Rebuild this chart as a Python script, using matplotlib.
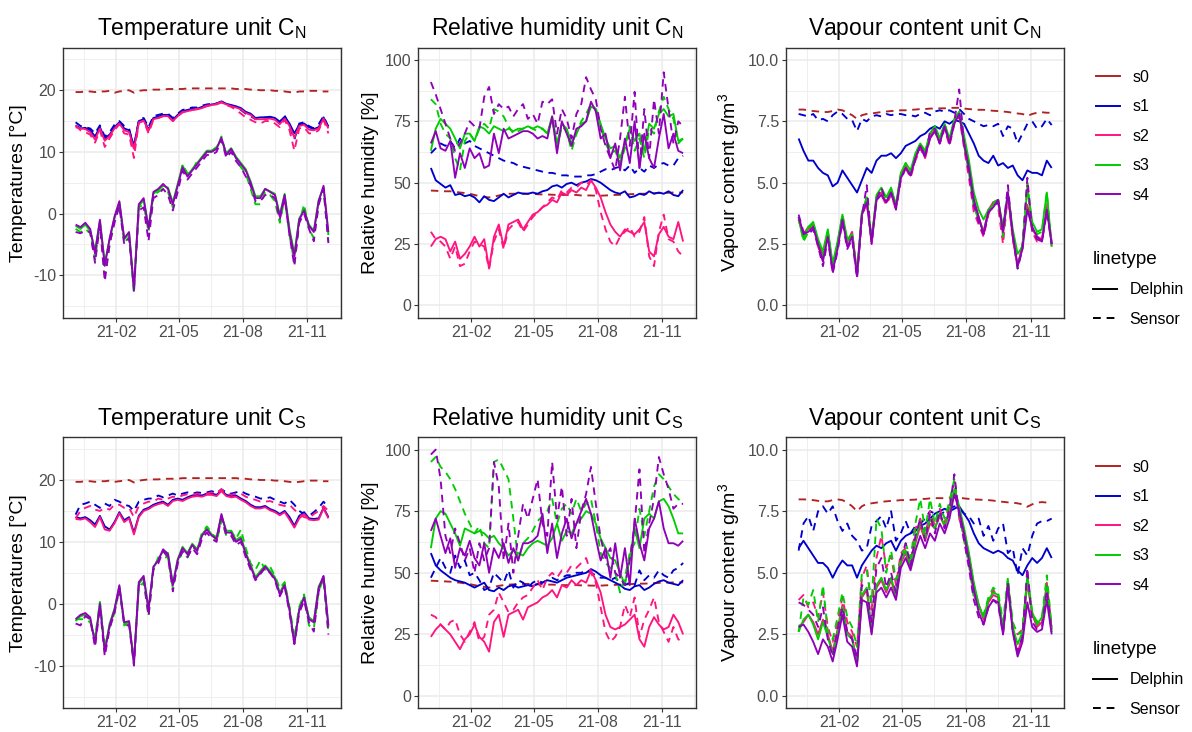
import numpy as np
import pandas as pd
import matplotlib
matplotlib.use('Agg')
import matplotlib.pyplot as plt
from matplotlib.lines import Line2D

plt.rcParams['font.family'] = ['Liberation Sans', 'DejaVu Sans']
plt.rcParams['mathtext.fontset'] = 'custom'
plt.rcParams['mathtext.rm'] = 'Liberation Sans'
plt.rcParams['mathtext.it'] = 'Liberation Sans:italic'
plt.rcParams['mathtext.bf'] = 'Liberation Sans:bold'

# ---------------- data ----------------
dates = pd.date_range('2020-12-05', '2021-12-01', periods=53)
sensors = ['s0', 's1', 's2', 's3', 's4']
linetypes = ['Delphin', 'Sensor']
month_breaks = ['2020-11-01', '2021-02-01', '2021-05-01', '2021-08-01', '2021-11-01', '2022-02-01']

# Temperature unit C_N
temp_N_s0_sensor = [19.7,19.7,19.8,19.8,19.7,19.8,19.8,19.9,19.6,19.8,
                    19.9,20.0,19.6,19.9,20.0,20.0,20.1,20.1,20.1,20.2,
                    20.2,20.2,20.2,20.3,20.3,20.3,20.3,20.3,20.3,20.3,
                    20.3,20.3,20.3,20.2,20.2,20.2,20.1,20.1,20.0,20.0,
                    20.0,19.9,19.9,19.8,19.7,19.6,19.8,19.8,19.9,19.9,
                    19.9,19.8,19.8]
temp_N_s1_delphin = [14.3,13.8,13.9,13.5,12.5,14.0,12.2,12.8,14.0,14.8,
                     13.8,13.5,11.0,15.0,15.3,13.6,15.5,15.7,16.0,16.0,
                     15.2,16.0,16.6,16.8,17.0,17.0,17.3,17.5,17.7,17.8,
                     18.2,17.8,17.6,17.4,17.1,16.5,16.2,15.5,15.6,15.6,
                     15.7,15.5,14.9,15.7,14.6,13.0,14.4,14.6,14.0,13.7,
                     14.0,15.6,14.1]
temp_N_s1_sensor = [14.8,14.2,14.0,13.8,13.0,14.3,12.5,13.2,14.4,15.0,
                    14.2,13.8,10.6,15.2,15.5,14.0,15.8,16.0,16.2,16.2,
                    15.5,16.2,16.8,17.0,17.2,17.2,17.5,17.7,17.8,17.9,
                    18.1,17.7,17.5,17.2,16.8,16.2,15.8,15.3,15.4,15.6,
                    15.5,15.4,14.8,15.9,14.3,12.0,14.6,14.8,14.2,13.8,
                    14.5,15.8,14.0]
temp_N_s2_delphin = [14.0,13.8,13.7,13.2,12.0,13.8,11.8,12.6,13.8,14.6,
                     13.5,13.2,10.5,14.7,15.1,13.4,15.3,15.5,15.8,15.8,
                     15.0,15.8,16.4,16.6,16.8,16.9,17.1,17.4,17.6,17.7,
                     18.0,17.7,17.4,17.2,16.9,16.3,16.0,15.3,15.3,15.3,
                     15.4,15.2,14.5,15.4,14.2,12.3,14.2,14.4,13.6,13.5,
                     13.8,15.4,13.8]
temp_N_s2_sensor = [14.3,13.5,13.2,12.8,11.5,13.5,10.8,12.2,13.5,14.5,
                    13.0,12.8,9.0,14.8,15.0,13.0,15.2,15.5,15.8,15.8,
                    15.0,15.8,16.5,16.6,16.8,17.0,17.2,17.5,17.6,17.8,
                    18.1,17.6,17.3,16.8,16.2,15.6,15.2,14.8,14.6,15.0,
                    15.0,14.6,14.0,15.2,13.5,10.2,13.8,14.0,13.0,13.0,
                    13.5,15.2,13.0]
temp_N_s3_delphin = [-2.0,-2.5,-1.8,-2.8,-6.0,-1.2,-8.0,-4.2,-0.8,1.8,
                     -4.2,-3.2,-12.0,1.2,2.2,-2.2,3.2,3.8,4.5,4.2,
                     1.8,4.8,7.8,6.2,7.2,8.2,9.2,10.2,10.2,10.8,
                     12.0,9.8,10.6,9.2,8.2,7.2,5.2,2.8,2.8,4.0,
                     3.6,3.2,-0.2,3.2,-2.5,-6.5,-0.8,0.6,-1.8,-2.8,
                     2.2,4.2,-3.5]
temp_N_s3_sensor = [-2.5,-3.0,-2.5,-3.2,-7.5,-1.5,-10.0,-5.0,-1.0,1.5,
                    -4.8,-3.8,-13.0,1.0,1.5,-3.0,3.0,3.5,4.0,3.5,
                    1.0,4.0,8.0,6.5,7.0,8.5,9.0,10.0,10.2,10.5,
                    12.5,9.5,10.5,9.0,7.5,6.5,4.0,1.5,1.5,3.5,
                    3.0,2.0,-1.5,2.5,-3.5,-8.0,-1.5,1.5,-2.5,-4.0,
                    1.5,4.0,-4.5]
temp_N_s4_delphin = [-1.8,-2.2,-1.5,-2.5,-6.5,-1.0,-8.5,-4.0,-0.5,2.0,
                     -4.0,-3.0,-12.5,1.5,2.5,-2.5,3.5,4.0,4.8,4.0,
                     1.5,4.5,7.5,6.0,7.0,8.0,9.0,10.0,10.0,10.5,
                     12.3,9.5,10.5,9.0,8.0,7.0,5.0,2.5,2.5,4.0,
                     3.5,3.0,-0.5,3.0,-3.0,-7.0,-1.0,0.5,-2.0,-3.0,
                     2.0,4.5,-3.0]
temp_N_s4_sensor = [-3.0,-3.2,-2.8,-3.0,-8.0,-1.8,-11.0,-5.0,-1.5,1.2,
                    -5.0,-4.0,-12.0,0.5,1.0,-4.5,2.5,3.0,4.0,3.0,
                    0.5,3.5,7.0,5.5,6.5,7.5,8.5,9.5,9.5,10.0,
                    12.0,9.0,10.0,8.5,7.5,6.0,4.5,2.0,2.0,3.0,
                    3.0,2.5,-1.0,2.5,-3.5,-8.5,-1.5,0.0,-2.5,-4.5,
                    1.5,4.0,-4.8]

# Relative humidity unit C_N
rh_N_s0_sensor = [46.8,46.7,46.6,46.5,46.5,46.3,46.0,45.8,45.5,45.0,
                  44.5,44.2,44.0,44.3,44.8,45.2,45.5,45.5,45.5,45.6,
                  45.5,45.4,45.3,45.2,45.2,45.1,45.0,45.0,45.0,45.0,
                  45.0,44.8,44.8,44.8,44.7,44.7,44.8,44.9,45.0,45.1,
                  45.2,45.3,45.4,45.5,45.5,45.6,45.7,45.8,45.8,45.9,
                  46.0,46.0,46.0]
rh_N_s1_delphin = [56,51,49.5,48,49,45,45.5,44.5,45,44,
                   42,44.5,43,42.5,44,45.5,44,45,46,45.5,
                   45.5,46,45.5,46.5,47,48.5,49,48,49.5,50,
                   49,50,50.5,51.5,51,50,48.5,47,46,45.5,
                   46.5,44,44.5,45.5,45,46.5,45.5,46,45.5,46.5,
                   45,44.5,47]
rh_N_s1_sensor = [62,64,66,65,67,64,68,66,67,65,
                  64,63,62,61,60,59,58.5,58,57,56.5,
                  56,55.5,55,54.5,54,54,53.5,53,53,52.5,
                  52.5,52.5,53,53,53.5,54.5,55.5,55,56,56.5,
                  55,57,54,56,54.5,57,56,57.5,58,57,
                  57,60,61]
rh_N_s2_delphin = [24,27,28,27,22,26,19,21,24,28,
                   24,27,15,28,33,24,33,34,35,31,
                   34,37,38,40,41,43,42,46,45,47,
                   46,48,47,51,48,44,38,33,30,28,
                   31,30,29,31,34,22,20,29,32,28,
                   27,34,26]
rh_N_s2_sensor = [30,27,26,24,19,24,16,17,22,26,
                  25,24,15,26,31,23,31,33,34,30,
                  33,36,38,40,42,44,43,47,46,48,
                  48,50,49,51,47,38,31,26,24,28,
                  30,32,28,30,36,20,16,30,37,27,
                  26,22,20]
rh_N_s3_delphin = [63,72,76,74,72,68,64,70,70,67,
                   73,72,70,73,72,71,72,71,72,72,
                   73,72,73,72,70,77,66,74,72,66,
                   70,74,75,81,80,74,68,64,65,60,
                   66,72,67,70,63,74,72,78,80,77,
                   78,67,68]
rh_N_s3_sensor = [84,82,74,70,68,60,55,67,70,67,
                  72,74,72,80,79,77,73,70,71,72,
                  73,72,71,72,70,76,64,73,71,63,
                  70,75,78,82,80,73,66,62,63,58,
                  64,73,63,68,60,72,70,79,85,80,
                  76,66,68]
rh_N_s4_delphin = [66,71,64,63,67,52,62,56,64,60,
                   62,56,57,70,62,72,68,69,70,71,
                   71,70,68,69,68,77,62,75,70,65,
                   72,73,75,83,79,68,70,60,66,55,
                   68,58,75,56,70,60,56,68,78,64,
                   70,63,62]
rh_N_s4_sensor = [91,86,80,74,68,63,66,70,75,73,
                  72,85,89,78,82,80,81,77,80,82,
                  76,78,74,83,82,84,70,80,76,68,
                  78,82,93,88,84,72,65,60,55,68,
                  85,65,87,56,80,60,84,70,95,80,
                  66,75,73]

# Vapour content unit C_N
vc_N_s0_sensor = [7.98,7.98,7.95,7.92,7.90,7.88,7.88,7.92,7.98,7.95,
                  7.85,7.75,7.60,7.75,7.80,7.82,7.85,7.88,7.90,7.92,
                  7.93,7.95,7.95,7.97,7.98,8.00,8.00,8.02,8.02,8.03,
                  8.03,8.05,8.05,8.05,8.02,8.00,7.98,7.97,7.97,7.95,
                  7.93,7.92,7.90,7.88,7.85,7.82,7.80,7.72,7.80,7.85,
                  7.87,7.85,7.85]
vc_N_s1_delphin = [6.8,6.3,5.9,5.9,5.6,5.4,5.3,4.85,5.0,5.5,
                   5.2,4.9,4.6,5.1,5.6,5.4,5.9,6.1,6.1,6.2,
                   6.0,6.2,6.5,6.6,6.7,6.9,7.0,7.2,7.3,7.2,
                   7.5,7.4,7.55,7.5,7.4,7.0,6.6,6.1,5.9,5.8,
                   6.1,5.7,5.8,5.6,5.7,5.3,5.1,5.5,5.4,5.4,
                   5.3,5.9,5.6]
vc_N_s1_sensor = [7.8,7.75,7.7,7.8,7.55,7.6,7.5,7.75,7.9,7.8,
                  7.6,7.55,7.1,7.6,7.5,7.7,7.75,7.7,7.8,7.75,
                  7.8,7.8,7.75,7.75,7.7,7.8,7.85,7.75,7.9,7.95,
                  7.9,7.95,7.85,8.0,7.8,7.6,7.5,7.4,7.3,7.35,
                  7.3,7.4,6.9,7.3,7.2,6.6,7.0,7.4,7.5,7.2,
                  7.3,7.6,7.35]
vc_N_s2_delphin = [3.6,2.9,3.2,3.3,2.6,2.0,3.0,1.5,2.5,3.6,
                   2.6,3.0,1.3,3.7,4.3,2.6,4.4,4.6,4.2,4.6,
                   4.0,5.3,5.7,5.3,6.0,6.5,6.1,6.9,7.2,6.7,
                   7.3,6.7,7.5,7.8,6.8,5.6,4.3,3.6,3.0,3.9,
                   4.2,4.3,2.9,4.5,2.8,1.6,2.5,4.1,3.1,2.8,
                   2.7,4.0,2.6]
vc_N_s2_sensor = [3.5,2.8,3.1,3.3,2.4,1.8,2.9,1.4,2.4,3.6,
                  2.5,3.0,1.2,3.6,4.2,2.5,4.3,4.5,4.1,4.5,
                  3.9,5.2,5.6,5.2,5.9,6.4,6.0,6.8,7.1,6.6,
                  7.2,6.5,7.4,7.7,6.4,5.2,3.8,3.3,2.8,3.7,
                  4.2,4.0,2.5,4.5,2.7,1.6,2.4,4.9,3.0,2.6,
                  2.6,4.2,2.4]
vc_N_s3_delphin = [3.5,2.7,3.2,3.4,2.7,2.2,3.1,1.7,2.6,3.7,
                   2.7,2.9,1.3,3.8,4.4,2.7,4.5,4.8,4.4,4.8,
                   4.1,5.4,5.8,5.5,6.2,6.6,6.3,7.0,7.3,6.8,
                   7.4,6.8,7.6,7.9,6.9,5.9,4.6,3.9,3.5,3.9,
                   4.1,4.3,3.2,4.6,3.1,2.1,2.4,4.8,3.4,3.0,
                   3.1,4.6,2.4]
vc_N_s3_sensor = [3.6,2.6,3.0,3.4,2.5,2.0,3.0,1.6,2.5,3.7,
                  2.6,2.9,1.3,3.7,4.4,2.6,4.4,4.7,4.3,4.7,
                  4.0,5.3,5.8,5.4,6.1,6.6,6.2,7.0,7.3,6.8,
                  7.4,6.7,7.6,7.8,6.5,5.4,4.0,3.5,3.0,3.8,
                  4.2,4.3,2.8,4.6,2.9,1.5,2.5,5.0,3.2,2.9,
                  3.0,4.6,2.4]
vc_N_s4_delphin = [3.6,2.9,3.0,3.2,2.5,1.8,2.8,1.4,2.3,3.5,
                   2.4,2.8,1.2,3.7,4.2,2.6,4.3,4.5,4.2,4.6,
                   4.0,5.2,5.6,5.3,6.0,6.5,6.1,6.8,7.1,6.6,
                   7.3,6.6,7.4,7.8,6.6,5.6,4.3,3.6,2.9,3.8,
                   4.0,4.3,3.0,4.6,2.9,1.6,2.3,3.9,3.2,2.8,
                   2.6,3.9,2.5]
vc_N_s4_sensor = [3.7,3.0,2.9,3.1,2.4,1.6,2.7,1.3,2.2,3.4,
                  2.3,2.7,1.1,3.6,4.9,2.5,4.3,4.8,4.2,4.6,
                  3.9,5.1,5.6,5.3,6.0,6.5,6.0,7.1,7.2,6.6,
                  7.3,6.6,7.5,8.8,6.6,5.4,4.1,3.4,2.9,3.8,
                  4.0,4.2,3.0,4.9,2.8,1.5,2.3,5.2,3.0,2.7,
                  2.6,3.8,2.5]

# Temperature unit C_S
temp_S_s0_sensor = [19.7,19.7,19.8,19.8,19.7,19.8,19.8,19.9,19.7,19.8,
                    19.9,20.0,19.6,19.9,20.0,20.1,20.1,20.1,20.2,20.2,
                    20.2,20.2,20.3,20.3,20.3,20.3,20.3,20.3,20.3,20.3,
                    20.3,20.3,20.3,20.3,20.2,20.2,20.1,20.1,20.0,20.0,
                    20.0,19.9,19.9,19.8,19.7,19.6,19.7,19.8,19.9,19.9,
                    19.9,19.8,19.8]
temp_S_s1_delphin = [14.0,13.8,14.0,13.5,12.8,14.2,12.5,12.0,13.2,14.8,
                     13.5,14.0,11.5,14.2,15.2,15.5,16.0,16.3,16.5,16.0,
                     16.8,17.0,16.8,17.2,17.5,17.6,17.5,17.8,17.8,17.6,
                     18.3,17.6,17.4,17.5,17.0,16.6,16.0,15.6,15.6,15.8,
                     15.3,15.0,14.5,15.0,14.0,12.6,14.2,14.8,13.8,13.7,
                     13.8,15.5,14.0]
temp_S_s1_sensor = [14.4,16.0,16.2,16.5,16.0,15.5,16.2,15.8,16.8,16.5,
                    16.0,15.8,15.0,16.5,16.8,17.0,17.0,17.5,17.2,17.5,
                    17.8,17.5,17.8,18.0,17.8,18.0,17.9,18.0,18.2,17.9,
                    18.5,18.0,17.8,18.0,18.2,17.8,17.5,17.3,17.0,17.0,
                    17.2,16.8,16.5,16.2,16.8,16.0,15.0,14.5,14.2,14.8,
                    15.5,16.5,15.5]
temp_S_s2_delphin = [13.7,13.6,13.8,13.2,12.4,14.0,12.0,11.8,13.0,14.6,
                     13.2,13.8,11.2,14.0,15.0,15.3,15.8,16.1,16.3,15.8,
                     16.6,16.8,16.6,17.0,17.3,17.4,17.3,17.6,17.6,17.4,
                     18.2,17.4,17.2,17.3,16.8,16.4,15.8,15.4,15.4,15.6,
                     15.1,14.8,14.3,14.8,13.6,12.3,13.8,14.5,13.6,13.5,
                     13.6,15.4,13.8]
temp_S_s2_sensor = [13.8,15.0,15.5,15.8,15.2,15.0,15.5,15.2,16.0,16.0,
                    15.5,15.5,14.0,15.8,16.2,16.5,16.5,17.0,16.8,17.0,
                    17.3,17.2,17.5,17.7,17.6,17.8,17.7,17.8,18.0,17.8,
                    18.5,17.8,17.6,17.8,17.8,17.3,17.0,16.8,16.5,16.5,
                    16.6,16.3,16.0,15.8,16.0,15.2,14.5,14.0,13.8,14.5,
                    15.0,15.8,15.0]
temp_S_s3_delphin = [-2.8,-2.0,-1.8,-2.5,-6.0,0.2,-7.5,-3.2,-0.8,2.8,
                     -3.2,-3.0,-9.5,3.2,4.2,-0.8,5.8,7.2,8.5,8.2,
                     3.2,7.2,9.2,8.2,9.7,8.8,11.2,12.2,11.2,10.8,
                     14.2,11.8,11.8,10.3,10.8,8.3,6.3,4.3,5.3,6.2,
                     5.3,4.3,1.8,3.3,-0.8,-6.2,-0.8,1.2,-2.2,-2.8,
                     2.8,4.3,-3.8]
temp_S_s3_sensor = [-2.5,-2.5,-2.5,-3.0,-5.5,0.3,-7.0,-3.8,-1.5,2.5,
                    -3.5,-3.2,-9.0,2.5,3.5,-2.0,5.5,7.5,7.5,7.5,
                    2.5,6.5,8.5,7.5,9.0,8.8,11.5,12.5,11.5,10.0,
                    13.5,11.0,11.8,10.5,12.0,9.0,6.5,5.5,7.0,5.5,
                    6.0,4.5,2.5,3.5,-0.5,-5.5,-0.5,1.5,-3.5,-4.0,
                    2.0,4.0,-4.5]
temp_S_s4_delphin = [-2.5,-1.8,-1.5,-2.2,-6.5,0.0,-7.8,-3.5,-1.0,3.0,
                     -3.0,-2.8,-9.8,3.5,4.5,-1.0,6.0,7.0,8.8,8.0,
                     3.0,7.0,9.0,8.0,9.5,8.5,11.0,12.0,11.0,10.5,
                     14.5,11.5,11.5,10.0,10.5,8.0,6.0,4.0,5.0,6.0,
                     5.0,4.0,1.5,3.0,-1.0,-6.5,-1.0,1.0,-2.5,-3.0,
                     2.5,4.5,-3.5]
temp_S_s4_sensor = [-3.2,-3.5,-2.0,-2.5,-7.0,-0.5,-8.5,-4.0,-1.5,2.5,
                    -3.5,-3.5,-10.0,3.0,4.0,-2.0,5.5,6.5,8.5,7.5,
                    2.0,6.5,8.5,7.5,9.0,8.0,10.5,11.5,10.5,10.0,
                    14.0,11.0,11.0,9.5,10.0,7.5,5.5,3.8,4.8,5.8,
                    5.0,3.8,1.2,2.8,-1.5,-6.5,-1.5,0.5,-3.0,-4.5,
                    2.0,4.5,-5.0]

# Relative humidity unit C_S
rh_S_s0_sensor = [46.8,46.7,46.6,46.5,46.4,46.2,46.0,45.7,45.4,45.0,
                  44.6,44.3,44.0,44.3,44.7,45.0,45.2,45.3,45.4,45.5,
                  45.5,45.4,45.3,45.3,45.2,45.2,45.1,45.0,45.0,45.0,
                  45.0,44.9,44.9,44.8,44.8,44.8,44.9,45.0,45.1,45.2,
                  45.3,45.4,45.5,45.6,45.6,45.7,45.8,45.9,46.0,46.0,
                  46.1,46.1,46.1]
rh_S_s1_delphin = [58,53,51,49.5,48,47,46.5,46,45,44,
                   45,46,43,42.5,44,43,44.5,45,44,44.5,
                   45,44.5,45.5,46,47,46.5,46,47,48,48.5,
                   49,49.5,50,51.5,50.5,49,48,47,46,45,
                   43.5,43,44.5,45,43,44,45.5,46.5,47,46,
                   45.5,45,47]
rh_S_s1_sensor = [48,52,56,52,50,57,52,55,49,50,
                  47,43,44,50,48,46,51,44,47,46,
                  44,46,47,46,47,48,47,48,49,49,
                  50,50,51,50,49,48,48,47,48,46,
                  45,46,45,51,47,49,48,51,49,48,
                  51,52,54]
rh_S_s2_delphin = [24,27,29,27,25,22,19,23,25,29,
                   24,22,18,30,33,24,33,34,35,31,
                   36,37,38,40,41,43,40,45,44,47,
                   45,47,46,51,47,42,33,28,27,28,
                   29,31,33,23,20,28,32,29,27,28,
                   33,30,25]
rh_S_s2_sensor = [33,32,29,27,30,31,25,22,26,30,
                  22,24,33,35,42,38,34,35,38,40,
                  41,44,47,43,48,50,48,51,50,53,
                  52,54,56,50,46,36,26,22,24,28,
                  37,32,40,24,31,35,40,30,26,22,
                  28,23,22]
rh_S_s3_delphin = [60,72,75,74,70,66,61,68,67,66,
                   67,66,64,65,62,60,57,59,58,57,
                   60,62,63,62,61,64,70,63,67,66,
                   70,72,75,74,70,64,60,56,55,50,
                   45,56,68,60,72,74,72,79,80,77,
                   72,66,66]
rh_S_s3_sensor = [95,97,93,91,88,84,79,74,70,66,
                  69,62,60,95,96,92,88,72,55,62,
                  64,67,71,73,75,80,70,76,78,74,
                  80,75,78,80,70,58,54,52,50,42,
                  48,58,62,76,65,75,85,90,88,85,
                  82,80,78]
rh_S_s4_delphin = [67,72,65,58,64,52,60,57,63,56,
                   53,62,50,60,56,62,54,60,55,62,
                   62,63,65,74,58,70,56,66,72,64,
                   70,75,80,74,64,55,60,48,62,48,
                   60,45,72,62,55,68,72,79,68,62,
                   62,61,63]
rh_S_s4_sensor = [98,100,88,65,58,68,62,55,60,50,
                  62,55,60,95,85,55,70,50,65,78,
                  72,80,88,70,65,95,72,85,65,80,
                  60,75,82,93,78,64,56,60,50,48,
                  45,55,70,92,58,70,80,97,90,84,
                  76,78,78]

# Vapour content unit C_S
vc_S_s0_sensor = [7.98,7.98,7.97,7.95,7.92,7.90,7.90,7.95,7.98,7.95,
                  7.85,7.70,7.50,7.70,7.80,7.82,7.85,7.88,7.90,7.92,
                  7.93,7.95,7.95,7.96,7.97,8.00,8.00,8.02,8.03,8.03,
                  8.03,8.05,8.05,8.05,8.02,8.00,7.98,7.97,7.96,7.95,
                  7.93,7.90,7.88,7.86,7.85,7.82,7.78,7.68,7.78,7.85,
                  7.87,7.85,7.85]
vc_S_s1_delphin = [6.0,6.3,6.0,5.7,5.4,5.4,5.2,4.8,5.2,5.5,
                   5.3,5.3,4.8,5.3,5.6,5.9,6.1,6.0,6.2,6.3,
                   5.9,6.3,6.5,6.6,6.7,6.9,7.0,7.2,7.4,7.5,
                   7.6,7.5,7.6,7.7,7.4,7.1,6.6,6.2,6.0,5.9,
                   5.8,5.9,5.8,5.6,5.5,5.1,4.9,5.3,5.6,5.4,
                   5.6,6.0,5.6]
vc_S_s1_sensor = [5.9,7.0,7.3,6.7,7.5,7.7,7.4,7.7,7.1,6.7,
                  7.0,6.5,6.3,5.9,6.0,6.9,7.1,7.3,6.8,7.5,
                  6.3,6.6,7.1,6.6,6.9,7.0,7.2,7.5,7.4,7.3,
                  7.5,7.6,7.7,7.6,7.4,7.3,7.0,7.2,6.5,6.9,
                  6.3,6.8,7.0,5.8,6.0,4.9,6.0,5.7,6.5,7.0,
                  7.1,7.1,7.2]
vc_S_s2_delphin = [2.8,3.0,3.3,3.0,2.5,3.1,2.5,1.8,2.7,3.7,
                   2.6,2.4,1.3,4.0,4.3,2.6,4.4,4.7,4.2,4.7,
                   4.0,5.4,5.8,5.2,6.2,6.9,6.3,7.0,6.8,7.3,
                   6.9,7.4,8.3,7.6,6.7,5.7,4.5,3.7,3.1,3.8,
                   4.1,4.0,2.6,4.6,2.7,1.7,2.5,4.6,3.3,2.8,
                   3.0,4.6,2.7]
vc_S_s2_sensor = [3.9,4.1,3.6,3.8,3.2,4.2,2.8,2.2,3.0,4.0,
                  3.0,2.6,2.0,4.8,5.3,3.5,5.6,6.5,5.2,5.7,
                  4.5,5.8,6.0,5.4,6.8,7.2,6.5,7.5,6.9,7.6,
                  7.0,7.8,8.7,7.2,6.5,5.5,4.1,3.7,3.2,3.9,
                  4.3,4.0,2.7,4.6,2.8,2.5,2.7,4.8,3.2,2.9,
                  3.0,4.5,2.7]
vc_S_s3_delphin = [2.6,3.1,3.3,2.9,2.3,3.0,2.4,1.7,2.6,3.6,
                   2.5,2.3,1.3,4.1,4.4,2.6,4.5,4.8,4.3,4.8,
                   4.1,5.5,5.9,5.3,6.3,7.1,6.4,7.2,6.8,7.4,
                   6.9,7.5,8.4,7.7,6.8,5.8,4.6,3.7,3.2,3.9,
                   4.2,4.1,2.7,4.7,2.8,2.1,2.6,4.8,3.4,2.9,
                   3.2,4.4,2.6]
vc_S_s3_sensor = [2.6,4.0,3.7,4.3,3.0,4.5,2.6,2.3,3.2,4.2,
                  3.2,2.8,2.0,5.0,5.1,3.8,7.2,6.8,5.0,5.9,
                  4.7,5.5,6.2,5.6,7.0,8.0,6.7,8.0,7.0,7.8,
                  7.2,7.9,8.8,7.4,6.3,5.3,4.0,3.6,3.3,4.0,
                  4.4,4.2,3.0,4.8,3.0,2.5,2.6,4.9,3.4,3.0,
                  3.2,4.9,2.8]
vc_S_s4_delphin = [2.8,2.9,2.6,2.2,1.7,2.3,2.0,1.4,2.3,3.3,
                   2.2,2.0,1.2,3.9,3.8,2.5,4.2,4.4,4.0,4.4,
                   3.9,5.2,5.6,5.1,5.9,6.5,6.0,6.6,6.3,7.0,
                   6.6,7.2,8.2,7.5,6.6,5.5,4.3,3.4,2.9,3.6,
                   3.9,3.8,2.5,4.5,2.6,1.6,2.2,3.8,2.8,2.6,
                   2.7,3.9,2.5]
vc_S_s4_sensor = [3.8,3.7,3.5,3.3,2.8,3.6,2.3,1.6,2.7,3.6,
                  2.6,2.3,1.5,4.5,4.4,3.0,5.2,5.6,4.4,5.0,
                  4.2,5.6,6.2,5.3,6.5,7.2,6.3,7.4,6.6,7.5,
                  6.8,7.6,9.0,7.3,6.3,5.2,3.9,3.2,2.9,3.6,
                  3.9,3.7,2.5,4.6,2.6,1.8,2.4,5.2,3.0,2.7,
                  2.8,4.3,2.6]

# ---------------- styling ----------------
colors = {'s0': '#B22222', 's1': '#0000CD', 's2': '#FF1480',
          's3': '#00CD00', 's4': '#9000B8'}
dash = (0, (4, 3))
styles = {'Delphin': '-', 'Sensor': dash}
LW = 1.35

W, H = 1192, 732
fig = plt.figure(figsize=(W / 100, H / 100), dpi=100)


def px_axes(x0, x1, y0, y1):
    return fig.add_axes([x0 / W, 1 - y1 / H, (x1 - x0) / W, (y1 - y0) / H])


majors_all = pd.to_datetime(month_breaks)
minors = majors_all[:-1] + (majors_all[1:] - majors_all[:-1]) / 2
majors = majors_all[1:-1]
xpad = pd.Timedelta(days=18)


def draw_panel(ax, series, ylim, yticks, yminor, ytlabels, ylabel, title):
    for s in sensors:
        for lt in linetypes:
            vals = series.get((s, lt))
            if vals is None:
                continue
            ax.plot(dates, vals, color=colors[s], lw=LW, ls=styles[lt],
                    solid_capstyle='butt', dash_capstyle='butt',
                    solid_joinstyle='round')
    ax.set_xlim(dates[0] - xpad, dates[-1] + xpad)
    ax.set_ylim(*ylim)
    ax.set_xticks(majors)
    ax.set_xticklabels([d.strftime('%y-%m') for d in majors])
    ax.set_xticks(minors, minor=True)
    ax.set_yticks(yticks)
    ax.set_yticklabels(ytlabels)
    ax.set_yticks(yminor, minor=True)
    ax.grid(which='major', color='#EBEBEB', lw=1.1)
    ax.grid(which='minor', color='#EBEBEB', lw=0.55)
    ax.set_axisbelow(True)
    for sp in ax.spines.values():
        sp.set_color('#333333')
        sp.set_linewidth(1.0)
    ax.tick_params(which='major', length=3, width=0.8, color='#333333',
                   labelcolor='#4D4D4D', labelsize=11.5, pad=2)
    ax.tick_params(which='minor', length=0)
    ax.set_ylabel(ylabel, fontsize=14, labelpad=4)
    ax.set_title(title, fontsize=16.5, pad=9)


temp_ticks = [-10, 0, 10, 20]
temp_minor = [-15, -5, 5, 15, 25]
rh_ticks = [0, 25, 50, 75, 100]
rh_minor = [12.5, 37.5, 62.5, 87.5]
vc_ticks = [0, 2.5, 5, 7.5, 10]
vc_minor = [1.25, 3.75, 6.25, 8.75]

panels = [
    ('N', 'Temperature', 'Temperatures [°C]', (-16.9, 26.9), temp_ticks, temp_minor,
     [str(t) for t in temp_ticks],
     {('s0', 'Sensor'): temp_N_s0_sensor,
      ('s1', 'Delphin'): temp_N_s1_delphin, ('s1', 'Sensor'): temp_N_s1_sensor,
      ('s2', 'Delphin'): temp_N_s2_delphin, ('s2', 'Sensor'): temp_N_s2_sensor,
      ('s3', 'Delphin'): temp_N_s3_delphin, ('s3', 'Sensor'): temp_N_s3_sensor,
      ('s4', 'Delphin'): temp_N_s4_delphin, ('s4', 'Sensor'): temp_N_s4_sensor}),
    ('N', 'Relative humidity', 'Relative humidity [%]', (-5, 105), rh_ticks, rh_minor,
     [str(t) for t in rh_ticks],
     {('s0', 'Sensor'): rh_N_s0_sensor,
      ('s1', 'Delphin'): rh_N_s1_delphin, ('s1', 'Sensor'): rh_N_s1_sensor,
      ('s2', 'Delphin'): rh_N_s2_delphin, ('s2', 'Sensor'): rh_N_s2_sensor,
      ('s3', 'Delphin'): rh_N_s3_delphin, ('s3', 'Sensor'): rh_N_s3_sensor,
      ('s4', 'Delphin'): rh_N_s4_delphin, ('s4', 'Sensor'): rh_N_s4_sensor}),
    ('N', 'Vapour content', r'Vapour content g/m$^3$', (-0.5, 10.5), vc_ticks, vc_minor,
     ['%.1f' % t for t in vc_ticks],
     {('s0', 'Sensor'): vc_N_s0_sensor,
      ('s1', 'Delphin'): vc_N_s1_delphin, ('s1', 'Sensor'): vc_N_s1_sensor,
      ('s2', 'Delphin'): vc_N_s2_delphin, ('s2', 'Sensor'): vc_N_s2_sensor,
      ('s3', 'Delphin'): vc_N_s3_delphin, ('s3', 'Sensor'): vc_N_s3_sensor,
      ('s4', 'Delphin'): vc_N_s4_delphin, ('s4', 'Sensor'): vc_N_s4_sensor}),
    ('S', 'Temperature', 'Temperatures [°C]', (-16.9, 26.9), temp_ticks, temp_minor,
     [str(t) for t in temp_ticks],
     {('s0', 'Sensor'): temp_S_s0_sensor,
      ('s1', 'Delphin'): temp_S_s1_delphin, ('s1', 'Sensor'): temp_S_s1_sensor,
      ('s2', 'Delphin'): temp_S_s2_delphin, ('s2', 'Sensor'): temp_S_s2_sensor,
      ('s3', 'Delphin'): temp_S_s3_delphin, ('s3', 'Sensor'): temp_S_s3_sensor,
      ('s4', 'Delphin'): temp_S_s4_delphin, ('s4', 'Sensor'): temp_S_s4_sensor}),
    ('S', 'Relative humidity', 'Relative humidity [%]', (-5, 105), rh_ticks, rh_minor,
     [str(t) for t in rh_ticks],
     {('s0', 'Sensor'): rh_S_s0_sensor,
      ('s1', 'Delphin'): rh_S_s1_delphin, ('s1', 'Sensor'): rh_S_s1_sensor,
      ('s2', 'Delphin'): rh_S_s2_delphin, ('s2', 'Sensor'): rh_S_s2_sensor,
      ('s3', 'Delphin'): rh_S_s3_delphin, ('s3', 'Sensor'): rh_S_s3_sensor,
      ('s4', 'Delphin'): rh_S_s4_delphin, ('s4', 'Sensor'): rh_S_s4_sensor}),
    ('S', 'Vapour content', r'Vapour content g/m$^3$', (-0.5, 10.5), vc_ticks, vc_minor,
     ['%.1f' % t for t in vc_ticks],
     {('s0', 'Sensor'): vc_S_s0_sensor,
      ('s1', 'Delphin'): vc_S_s1_delphin, ('s1', 'Sensor'): vc_S_s1_sensor,
      ('s2', 'Delphin'): vc_S_s2_delphin, ('s2', 'Sensor'): vc_S_s2_sensor,
      ('s3', 'Delphin'): vc_S_s3_delphin, ('s3', 'Sensor'): vc_S_s3_sensor,
      ('s4', 'Delphin'): vc_S_s4_delphin, ('s4', 'Sensor'): vc_S_s4_sensor}),
]

col_px = [(63.0, 341.0), (418.3, 695.7), (786.0, 1064.3)]
row_px = [(47.7, 317.7), (437.3, 708.3)]

for i, (unit, name, ylabel, ylim, yt, ym, ytl, series) in enumerate(panels):
    r, c = divmod(i, 3)
    ax = px_axes(col_px[c][0], col_px[c][1], row_px[r][0], row_px[r][1])
    title = name + r' unit C$_\mathrm{' + unit + '}$'
    draw_panel(ax, series, ylim, yt, ym, ytl, ylabel, title)

# legends
for off in (0, 390):
    ch = [Line2D([], [], color=colors[s], lw=1.4) for s in sensors]
    fig.legend(ch, sensors, loc='upper left',
               bbox_to_anchor=(1096 / W, 1 - (70.0 + off) / H),
               frameon=False, fontsize=11.5, handlelength=1.5, handletextpad=0.8,
               labelspacing=0.9, borderpad=0, borderaxespad=0)
    lh = [Line2D([], [], color='black', lw=1.4, ls=styles[lt]) for lt in linetypes]
    fig.legend(lh, linetypes, loc='upper left', title='linetype',
               title_fontsize=13.6, alignment='left',
               bbox_to_anchor=(1093 / W, 1 - (251.0 + off) / H),
               frameon=False, fontsize=11.5, handlelength=1.5, handletextpad=0.8,
               labelspacing=0.9, borderpad=0, borderaxespad=0)

fig.savefig('out.png', dpi=100)
